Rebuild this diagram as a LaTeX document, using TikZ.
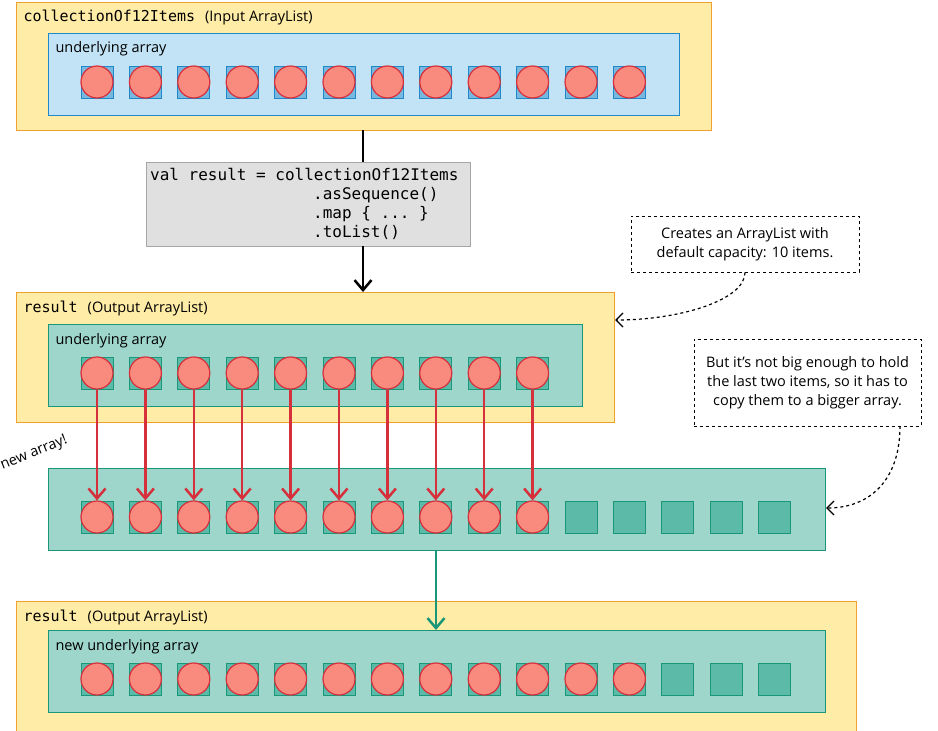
\documentclass[tikz,border=0pt]{standalone}
\usepackage{fontspec}
\setmainfont{Open Sans}
\setmonofont{DejaVu Sans Mono}
\usetikzlibrary{arrows.meta}
\definecolor{boxyellow}{HTML}{FFECA6}
\definecolor{boxorange}{HTML}{F0A030}
\definecolor{arrblue}{HTML}{C2E3F5}
\definecolor{arrblueline}{HTML}{1E88C8}
\definecolor{arrteal}{HTML}{9ED6CB}
\definecolor{arrtealline}{HTML}{1A9678}
\definecolor{cellteal}{HTML}{5CBAA8}
\definecolor{itemred}{HTML}{F98B7E}
\definecolor{itemline}{HTML}{D6303D}
\definecolor{codegray}{HTML}{E0E0E0}
\newcommand{\sansfs}{\fontsize{14.5}{19}\selectfont}
\newcommand{\titlett}[1]{{\fontsize{15}{19}\selectfont\ttfamily #1}\hspace{10pt}}
\tikzset{
  holder/.style={draw=boxorange, fill=boxyellow, line width=1.2pt, anchor=north west},
  under/.style={draw=#1line, fill=#1, line width=1.2pt, anchor=north west},
  cell/.style={draw=arrtealline, fill=cellteal, line width=1pt, minimum size=32pt, inner sep=0pt},
  item/.style={draw=itemline, fill=itemred, line width=1.2pt, circle, minimum size=32pt, inner sep=0pt},
  note/.style={draw, dashed, line width=1pt, fill=white, align=center, font=\sansfs, inner sep=4pt},
  tip/.style={-{Straight Barb[length=10pt,width=17pt]}, line width=2.5pt},
}
\begin{document}
\begin{tikzpicture}[x=1pt, y=-1pt]
  \useasboundingbox (0,0) rectangle (938,731);
  % input list
  \node[holder, minimum width=695pt, minimum height=128pt] (inbox) at (16,2) {};
  \node[anchor=west, font=\sansfs] at (20,18) {\titlett{collectionOf12Items}(Input ArrayList)};
  \node[under=arrblue, minimum width=631pt, minimum height=82pt] (inarr) at (48,33) {};
  \node[anchor=west, font=\sansfs] at (52,49) {underlying array};
  \foreach \i in {1,...,12} {
    \node[cell, draw=arrblueline, fill=arrblueline!60] (in-\i) at ({97+48.4*(\i-1)},82) {};
    \node[item] at (in-\i) {};
  }
  % code
  \node[draw=gray!70, fill=codegray, line width=1pt, anchor=north west, minimum width=324pt, minimum height=84pt] (code) at (146,162) {};
  \node[anchor=north west, align=left, inner sep=0pt, font=\fontsize{16}{19}\selectfont\ttfamily] at (150,168)
    {val result = collectionOf12Items\\
     \hspace*{163pt}.asSequence()\\
     \hspace*{163pt}.map \{ ... \}\\
     \hspace*{163pt}.toList()};
  % output list
  \node[holder, minimum width=598pt, minimum height=130pt] (outbox) at (16,292) {};
  \node[anchor=west, font=\sansfs] at (20,308) {\titlett{result}(Output ArrayList)};
  \node[under=arrteal, minimum width=534pt, minimum height=82pt] (outarr) at (48,324) {};
  \node[anchor=west, font=\sansfs] at (52,341) {underlying array};
  \foreach \i in {1,...,10} {
    \node[cell] (out-\i) at ({97+48.4*(\i-1)},373) {};
    \node[item] (outc-\i) at (out-\i) {};
  }
  % new array
  \node[under=arrteal, minimum width=777pt, minimum height=82pt] (newarr) at (48,468) {};
  \node[rotate=22, font=\sansfs, inner sep=0pt] at (34,453) {new array!};
  \foreach \i in {1,...,15} {
    \node[cell] (new-\i) at ({97+48.4*(\i-1)},517) {};
  }
  \foreach \i in {1,...,10} {
    \node[item] (newc-\i) at (new-\i) {};
    \draw[tip, itemline] (outc-\i.south) -- (newc-\i.north);
  }
  % final list
  \node[holder, minimum width=840pt, minimum height=130pt] (finbox) at (16,601) {};
  \node[anchor=west, font=\sansfs] at (20,617) {\titlett{result}(Output ArrayList)};
  \node[under=arrteal, minimum width=777pt, minimum height=82pt] (finarr) at (48,630) {};
  \node[anchor=west, font=\sansfs] at (52,647) {new underlying array};
  \foreach \i in {1,...,15} {
    \node[cell] (fin-\i) at ({97+48.4*(\i-1)},679) {};
  }
  \foreach \i in {1,...,12} {
    \node[item] at (fin-\i) {};
  }
  % connectors
  \coordinate (inbot) at (363,130);
  \coordinate (codetop) at (363,162);
  \coordinate (codebot) at (363,246);
  \coordinate (outtop) at (363,292);
  \coordinate (newbot) at (436,550);
  \coordinate (fintop) at (436,630);
  \draw[line width=2.5pt] (inbot) -- (codetop);
  \draw[tip] (codebot) -- (outtop);
  \draw[tip, arrtealline] (newbot) -- (fintop);
  % notes
  \node[note, minimum width=228pt, minimum height=56pt] (note1) at (745,244)
    {Creates an ArrayList with\\default capacity: 10 items.};
  \node[note, minimum width=227pt, minimum height=87pt] (note2) at (807.5,382.5)
    {But it's not big enough to hold\\the last two items, so it has to\\copy them to a bigger array.};
  \draw[-{Straight Barb[length=7pt,width=14pt]}, dashed, line width=1.2pt] (note1.south) .. controls (745,300) and (680,320) .. (outbox.east |- 0,320);
  \draw[-{Straight Barb[length=7pt,width=14pt]}, dashed, line width=1.2pt] (900,426) .. controls (900,480) and (870,508) .. (newarr.east |- 0,508);
\end{tikzpicture}
\end{document}
